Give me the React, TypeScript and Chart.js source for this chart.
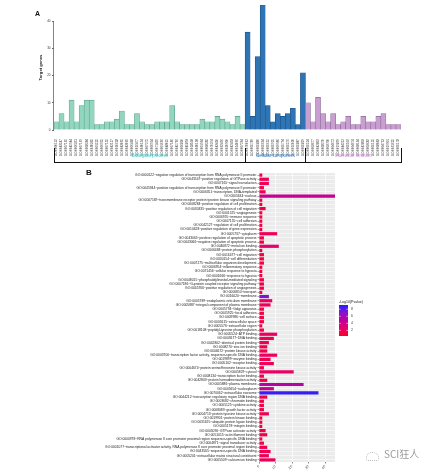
import React, { useEffect, useRef } from 'react';
import { Chart, registerables } from 'chart.js';
Chart.register(...registerables);

// ---------- Panel A data ----------
const bpIds = ['GO:0000122','GO:0043547','GO:0007165','GO:0045944','GO:0006351','GO:0007169','GO:0008284','GO:0030335','GO:0001525','GO:0006955','GO:0007155','GO:0042127','GO:0010628','GO:0043065','GO:0043066','GO:0006468','GO:0016477','GO:0030154','GO:0007275','GO:0006954','GO:0071456','GO:0001666','GO:0048015','GO:0007186','GO:0045766','GO:0006810','GO:0045893','GO:0018108','GO:0030198','GO:0001934','GO:0008285','GO:0070374','GO:0043410','GO:0032496','GO:0050900','GO:0042493','GO:0014066','GO:0007264'];
const bpCounts = [3,6,3,11,3,9,11,11,2,2,3,3,4,7,2,2,6,3,2,2,3,3,3,9,3,2,2,2,2,4,3,3,5,4,3,2,5,2];
const ccIds = ['GO:0070062','GO:0005789','GO:0005886','GO:0005634','GO:0005615','GO:0005925','GO:0009986','GO:0005794','GO:0005576','GO:0016020','GO:0005887','GO:0005829'];
const ccCounts = [36,5,27,46,9,3,6,5,6,8,2,21];
const mfIds = ['GO:0005524','GO:0003677','GO:0042802','GO:0008270','GO:0003700','GO:0004672','GO:0019899','GO:0044212','GO:0005102','GO:0004674','GO:0008134','GO:0042803','GO:0003682','GO:0005125','GO:0008083','GO:0004713','GO:0019901','GO:0031625','GO:0005178'];
const mfCounts = [10,3,12,6,3,6,2,3,5,2,2,5,3,3,5,6,2,2,2];
const groupNames = ['Biological process', 'Cellular component', 'Molecular function'];
const yTicksA = [0, 10, 20, 30, 40];
const yMaxA = 46;

// ---------- Panel B data ----------
const termLabels = [
  'GO:0000122~negative regulation of transcription from RNA polymerase II promoter',
  'GO:0043547~positive regulation of GTPase activity',
  'GO:0007165~signal transduction',
  'GO:0045944~positive regulation of transcription from RNA polymerase II promoter',
  'GO:0006351~transcription, DNA-templated',
  'GO:0005634~nucleus',
  'GO:0007169~transmembrane receptor protein tyrosine kinase signaling pathway',
  'GO:0008284~positive regulation of cell proliferation',
  'GO:0030335~positive regulation of cell migration',
  'GO:0001525~angiogenesis',
  'GO:0006955~immune response',
  'GO:0007155~cell adhesion',
  'GO:0042127~regulation of cell proliferation',
  'GO:0010628~positive regulation of gene expression',
  'GO:0005737~cytoplasm',
  'GO:0043065~positive regulation of apoptotic process',
  'GO:0043066~negative regulation of apoptotic process',
  'GO:0046872~metal ion binding',
  'GO:0006468~protein phosphorylation',
  'GO:0016477~cell migration',
  'GO:0030154~cell differentiation',
  'GO:0007275~multicellular organism development',
  'GO:0006954~inflammatory response',
  'GO:0071456~cellular response to hypoxia',
  'GO:0001666~response to hypoxia',
  'GO:0048015~phosphatidylinositol-mediated signaling',
  'GO:0007186~G-protein coupled receptor signaling pathway',
  'GO:0045766~positive regulation of angiogenesis',
  'GO:0006810~transport',
  'GO:0016020~membrane',
  'GO:0005789~endoplasmic reticulum membrane',
  'GO:0005887~integral component of plasma membrane',
  'GO:0005794~Golgi apparatus',
  'GO:0005925~focal adhesion',
  'GO:0009986~cell surface',
  'GO:0005615~extracellular space',
  'GO:0005576~extracellular region',
  'GO:0018108~peptidyl-tyrosine phosphorylation',
  'GO:0005524~ATP binding',
  'GO:0003677~DNA binding',
  'GO:0042802~identical protein binding',
  'GO:0008270~zinc ion binding',
  'GO:0004672~protein kinase activity',
  'GO:0003700~transcription factor activity, sequence-specific DNA binding',
  'GO:0019899~enzyme binding',
  'GO:0005102~receptor binding',
  'GO:0004674~protein serine/threonine kinase activity',
  'GO:0005829~cytosol',
  'GO:0008134~transcription factor binding',
  'GO:0042803~protein homodimerization activity',
  'GO:0005886~plasma membrane',
  'GO:0005654~nucleoplasm',
  'GO:0070062~extracellular exosome',
  'GO:0044212~transcription regulatory region DNA binding',
  'GO:0003682~chromatin binding',
  'GO:0005125~cytokine activity',
  'GO:0008083~growth factor activity',
  'GO:0004713~protein tyrosine kinase activity',
  'GO:0019901~protein kinase binding',
  'GO:0031625~ubiquitin protein ligase binding',
  'GO:0005178~integrin binding',
  'GO:0005096~GTPase activator activity',
  'GO:0051015~actin filament binding',
  'GO:0000978~RNA polymerase II core promoter proximal region sequence-specific DNA binding',
  'GO:0004871~signal transducer activity',
  'GO:0001077~transcriptional activator activity, RNA polymerase II core promoter proximal region binding',
  'GO:0043565~sequence-specific DNA binding',
  'GO:0005201~extracellular matrix structural constituent',
  'GO:0005509~calcium ion binding',
];
const termCounts = [2,6,6,3,4,46,2,2,4,2,2,2,2,2,11,3,3,12,2,3,3,3,2,2,2,3,3,3,2,6,8,7,3,3,3,3,2,3,11,9,6,5,5,11,7,9,3,21,3,5,27,9,36,5,3,3,3,6,2,2,2,4,5,2,3,5,7,6,10];
const termLogP = [1.4,1.9,1.9,1.5,1.6,4.4,1.4,1.4,1.6,1.4,1.4,1.4,1.4,1.4,2.0,1.5,1.5,2.6,1.4,1.5,1.5,1.5,1.4,1.4,1.4,1.5,1.5,1.5,1.4,7.0,2.2,2.0,1.5,1.5,1.5,1.5,1.4,1.5,2.2,2.0,1.7,1.6,1.6,2.2,1.8,2.0,1.5,2.3,1.5,1.6,5.2,4.4,8.8,1.6,1.5,1.5,1.5,1.8,1.4,1.4,1.4,1.6,1.7,1.4,1.5,1.7,1.9,1.8,2.1];
const xTicksB = [0, 10, 20, 30, 40];
const xMaxB = 46;
const legendTicks = [8, 6, 4, 2];
const legendLo = 0.4;
const legendHi = 9.2;

// ---------- styles ----------
const FONT = '"Liberation Sans", Arial, sans-serif';
const groupFill = ['#93d6c0', '#2e75b6', '#c99fd2'];
const groupBorder = ['#5a9f89', '#1d4f80', '#8e6a98'];
const groupText = ['#3cc6c6', '#2a6fbd', '#d28fd6'];
const gradStops: [number, number[]][] = [
  [0, [255, 0, 34]],
  [0.25, [232, 0, 110]],
  [0.5, [192, 0, 154]],
  [0.75, [138, 16, 208]],
  [1, [34, 34, 255]],
];
function pColor(v: number) {
  let t = (v - legendLo) / (legendHi - legendLo);
  t = Math.max(0, Math.min(1, t));
  for (let i = 1; i < gradStops.length; i++) {
    const [t1, c1] = gradStops[i];
    const [t0, c0] = gradStops[i - 1];
    if (t <= t1) {
      const f = (t - t0) / (t1 - t0);
      const c = c0.map((a, k) => Math.round(a + (c1[k] - a) * f));
      return `rgb(${c[0]},${c[1]},${c[2]})`;
    }
  }
  return 'rgb(34,34,255)';
}

export default function App() {
  const refA = useRef<HTMLCanvasElement>(null);
  const refB = useRef<HTMLCanvasElement>(null);

  useEffect(() => {
    Chart.defaults.font.family = FONT;
    const labelsA = [...bpIds, ...ccIds, ...mfIds];
    const countsA = [...bpCounts, ...ccCounts, ...mfCounts];
    const groupOf = [...bpIds.map(() => 0), ...ccIds.map(() => 1), ...mfIds.map(() => 2)];
    const sizes = [bpIds.length, ccIds.length, mfIds.length];

    const pluginA = {
      id: 'bracketA',
      afterDraw(chart: any) {
        const { ctx, chartArea } = chart;
        const x = chart.scales.x;
        const y = chart.scales.y;
        const step = x.getPixelForValue(1) - x.getPixelForValue(0);
        const bounds = [x.getPixelForValue(0) - step / 2];
        let acc = 0;
        sizes.forEach((s) => { acc += s; bounds.push(x.getPixelForValue(acc - 1) + step / 2); });
        const yTop = chartArea.bottom + 18;
        const yBot = chartArea.bottom + 32;
        ctx.save();
        ctx.strokeStyle = '#111';
        ctx.lineWidth = 1;
        ctx.beginPath();
        bounds.forEach((b) => {
          const bx = Math.round(b) + 0.5;
          ctx.moveTo(bx, yTop); ctx.lineTo(bx, yBot);
        });
        ctx.moveTo(Math.round(bounds[0]), yBot + 0.5);
        ctx.lineTo(Math.round(bounds[3]) + 1, yBot + 0.5);
        ctx.stroke();
        ctx.font = `4.5px ${FONT}`;
        ctx.textAlign = 'center';
        ctx.textBaseline = 'middle';
        groupNames.forEach((g, i) => {
          ctx.fillStyle = groupText[i];
          ctx.fillText(g, (bounds[i] + bounds[i + 1]) / 2, chartArea.bottom + 26);
        });
        // y axis line (0..40)
        ctx.strokeStyle = '#666';
        ctx.lineWidth = 0.8;
        ctx.beginPath();
        ctx.moveTo(chartArea.left - 0.5, y.getPixelForValue(yTicksA[0]));
        ctx.lineTo(chartArea.left - 0.5, y.getPixelForValue(yTicksA[yTicksA.length - 1]));
        ctx.stroke();
        // y title
        ctx.save();
        ctx.translate(chartArea.left - 13, (y.getPixelForValue(0) + y.getPixelForValue(yMaxA)) / 2);
        ctx.rotate(-Math.PI / 2);
        ctx.fillStyle = '#222';
        ctx.font = `bold 4.2px ${FONT}`;
        ctx.fillText('Target genes', 0, 0);
        ctx.restore();
        ctx.restore();
      },
    };

    const chartA = new Chart(refA.current!, {
      type: 'bar',
      data: {
        labels: labelsA,
        datasets: [{
          data: countsA,
          backgroundColor: groupOf.map((g) => groupFill[g]),
          borderColor: groupOf.map((g) => groupBorder[g]),
          borderWidth: 0.6,
          categoryPercentage: 1,
          barPercentage: 1,
        }],
      },
      options: {
        responsive: false,
        animation: false,
        devicePixelRatio: 1,
        layout: { padding: { left: 0, right: 31, top: 5, bottom: 0 } },
        plugins: { legend: { display: false }, tooltip: { enabled: false } },
        scales: {
          x: {
            grid: { display: false },
            border: { display: false },
            ticks: { autoSkip: false, maxRotation: 90, minRotation: 90, font: { size: 3 }, color: '#333', padding: 1 },
            afterFit: (s: any) => { s.height = 40; },
          },
          y: {
            min: 0,
            max: yMaxA,
            border: { display: false },
            grid: { drawOnChartArea: false, drawTicks: true, tickLength: 2, color: '#666' },
            ticks: { stepSize: 10, includeBounds: false, font: { size: 3 }, color: '#333', padding: 1.5 },
            afterBuildTicks: (s: any) => { s.ticks = s.ticks.filter((t: any) => yTicksA.includes(t.value)); },
            afterFit: (s: any) => { s.width = 54; },
          },
        },
      },
      plugins: [pluginA],
    } as any);

    const pluginB = {
      id: 'panelB',
      beforeDraw(chart: any) {
        const { ctx, chartArea } = chart;
        ctx.save();
        ctx.fillStyle = '#ebebeb';
        ctx.fillRect(chartArea.left, chartArea.top, chartArea.right - chartArea.left, chartArea.bottom - chartArea.top);
        ctx.restore();
      },
      afterDraw(chart: any) {
        const { ctx, chartArea } = chart;
        const lx = chartArea.right + 4;
        const ly = chartArea.top + 132;
        const lw = 9;
        const lh = 31;
        ctx.save();
        const grad = ctx.createLinearGradient(0, ly + lh, 0, ly);
        gradStops.forEach(([t, c]) => grad.addColorStop(t, `rgb(${c[0]},${c[1]},${c[2]})`));
        ctx.fillStyle = grad;
        ctx.fillRect(lx, ly, lw, lh);
        ctx.font = `3.5px ${FONT}`;
        ctx.textBaseline = 'middle';
        ctx.textAlign = 'left';
        legendTicks.forEach((v) => {
          const ty = ly + lh - ((v - legendLo) / (legendHi - legendLo)) * lh;
          ctx.strokeStyle = '#fff';
          ctx.lineWidth = 0.5;
          ctx.beginPath();
          ctx.moveTo(lx, ty); ctx.lineTo(lx + 1.8, ty);
          ctx.moveTo(lx + lw - 1.8, ty); ctx.lineTo(lx + lw, ty);
          ctx.stroke();
          ctx.fillStyle = '#444';
          ctx.fillText(String(v), lx + lw + 3, ty);
        });
        ctx.fillStyle = '#222';
        ctx.textBaseline = 'bottom';
        ctx.fillText('-Log10(Pvalue)', lx, ly - 1.5);
        ctx.restore();
      },
    };

    const chartB = new Chart(refB.current!, {
      type: 'bar',
      data: {
        labels: termLabels,
        datasets: [{
          data: termCounts,
          backgroundColor: termLogP.map(pColor),
          borderWidth: 0,
          categoryPercentage: 0.9,
          barPercentage: 0.85,
        }],
      },
      options: {
        indexAxis: 'y',
        responsive: false,
        animation: false,
        devicePixelRatio: 1,
        layout: { padding: { left: 0, right: 97, top: 8, bottom: 0 } },
        plugins: { legend: { display: false }, tooltip: { enabled: false } },
        scales: {
          x: {
            min: 0,
            max: xMaxB,
            border: { display: false },
            grid: {
              color: '#ffffff',
              lineWidth: (c: any) => (c.tick && c.tick.value % 10 === 0 ? 0.7 : 0.35),
              tickColor: '#555',
              tickLength: 1.5,
            },
            ticks: {
              stepSize: 5,
              includeBounds: false,
              font: { size: 3.5 },
              color: '#444',
              padding: 1,
              callback: (v: any) => (xTicksB.includes(Number(v)) ? String(v) : ''),
            },
            afterFit: (s: any) => { s.height = 10; },
          },
          y: {
            border: { display: false },
            grid: { color: '#ffffff', lineWidth: 0.5, offset: false, tickColor: '#555', tickLength: 1.5 },
            ticks: { autoSkip: false, font: { size: 3.3 }, color: '#222', padding: 1 },
            afterFit: (s: any) => { s.width = 259; },
          },
        },
      },
      plugins: [pluginB],
    } as any);

    return () => {
      chartA.destroy();
      chartB.destroy();
    };
  }, []);

  return (
    <div style={{ position: 'fixed', left: 0, top: 0, width: 432, height: 472, background: '#fff', overflow: 'hidden' }}>
      <canvas ref={refA} width={432} height={170} style={{ position: 'absolute', left: 0, top: 0 }} />
      <canvas ref={refB} width={432} height={307} style={{ position: 'absolute', left: 0, top: 165 }} />
      <div style={{ position: 'absolute', left: 35, top: 10, font: `bold 7px ${FONT}`, color: '#111' }}>A</div>
      <div style={{ position: 'absolute', left: 86, top: 168, font: `bold 8px ${FONT}`, color: '#111' }}>B</div>
      <div style={{ position: 'absolute', left: 366, top: 452, width: 11, height: 7, border: '1px dotted #bbb', borderRadius: '6px 6px 2px 2px' }} />
      <div style={{ position: 'absolute', left: 384, top: 448, fontSize: 10, color: '#9a9a9a', fontFamily: '"Noto Sans CJK SC", "Noto Sans", sans-serif', lineHeight: '12px' }}>SCI狂人</div>
    </div>
  );
}
